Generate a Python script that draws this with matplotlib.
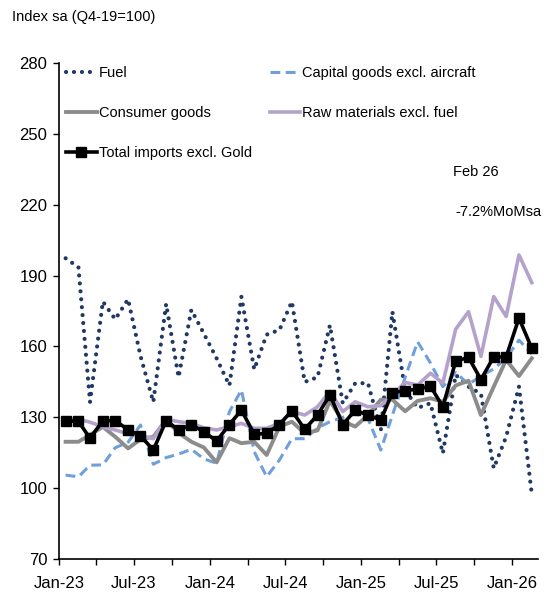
import numpy as np
import pandas as pd
import matplotlib
matplotlib.use("Agg")
import matplotlib.pyplot as plt
import matplotlib.dates as mdates

plt.rcParams['font.family'] = ['Liberation Sans Narrow', 'Liberation Sans', 'DejaVu Sans']

# monthly, Jan-23 .. Feb-26
months = pd.date_range('2023-01-01', periods=38, freq='MS')

fuel = [197.3, 193.5, 136.5, 179.0, 171.5, 180.0, 156.0, 136.5, 178.0, 147.0,
        175.5, 165.5, 155.0, 143.5, 181.0, 150.3, 165.0, 167.0, 179.0, 145.0,
        147.0, 169.0, 136.0, 144.4, 144.5, 124.5, 174.7, 141.5, 134.0, 136.0,
        114.8, 148.0, 143.0, 140.0, 108.5, 121.8, 143.0, 97.5]
capital = [105.6, 104.9, 109.8, 109.9, 117.2, 119.5, 126.8, 110.2, 113.0, 114.5,
           116.5, 112.5, 110.6, 132.4, 141.6, 115.5, 104.9, 112.0, 121.0, 121.0,
           125.5, 128.2, 130.0, 131.5, 129.5, 116.2, 131.0, 147.0, 162.0, 153.0,
           143.0, 149.0, 144.0, 147.5, 150.5, 155.0, 162.7, 156.8]
consumer = [119.7, 119.7, 122.6, 126.0, 121.8, 116.9, 120.7, 121.8, 128.9, 123.5,
            119.7, 117.3, 111.0, 121.2, 119.1, 119.7, 114.1, 126.1, 128.2, 123.3,
            124.5, 137.0, 128.5, 126.1, 131.0, 137.5, 137.5, 132.6, 137.0, 138.1,
            136.6, 143.5, 145.5, 131.0, 143.0, 154.3, 147.5, 155.0]
raw = [129.0, 129.2, 128.0, 126.0, 124.7, 123.0, 122.5, 121.0, 129.2, 128.2,
       127.5, 125.6, 124.7, 126.1, 127.5, 125.4, 125.4, 127.5, 132.5, 131.0,
       134.5, 141.0, 132.5, 136.6, 134.5, 135.0, 139.5, 144.8, 143.7, 148.7,
       144.5, 167.3, 174.7, 155.8, 181.1, 172.7, 198.7, 187.0]
total = [128.6, 128.3, 121.2, 128.6, 128.6, 124.8, 122.2, 116.2, 128.6, 124.7,
         126.8, 124.0, 120.0, 127.0, 133.1, 122.9, 123.2, 127.0, 132.8, 125.0,
         131.0, 139.5, 127.0, 133.0, 131.0, 128.9, 140.5, 141.3, 142.0, 143.2,
         134.5, 153.8, 155.4, 146.0, 155.6, 155.6, 172.0, 159.2]

y_ticks = [70, 100, 130, 160, 190, 220, 250, 280]

x = months + pd.Timedelta(days=16)

fig = plt.figure(figsize=(5.58, 6.01), dpi=100)
ax = fig.add_axes([59 / 558, 1 - 559.3 / 601, 479 / 558, 496.6 / 601])

l_fuel, = ax.plot(x, fuel, color='#1F3864', lw=3.0, linestyle=(0, (0.01, 1.9)),
                  dash_capstyle='round', label='Fuel')
l_cap, = ax.plot(x, capital, color='#6FA0DC', lw=2.2, linestyle=(0, (3.2, 1.8)),
                 label='Capital goods excl. aircraft')
l_con, = ax.plot(x, consumer, color='#8C8C8C', lw=2.8, label='Consumer goods')
l_raw, = ax.plot(x, raw, color='#B4A2CC', lw=2.6, label='Raw materials excl. fuel')
l_tot, = ax.plot(x, total, color='black', lw=2.6, marker='s', markersize=6.5,
                 label='Total imports excl. Gold')

ax.set_ylim(70, 280)
ax.set_yticks(y_ticks)
ax.set_xlim(pd.Timestamp('2023-01-01'), pd.Timestamp('2026-03-04'))
ax.xaxis.set_major_locator(mdates.MonthLocator(bymonth=[1, 7]))
ax.xaxis.set_major_formatter(mdates.DateFormatter('%b-%y'))
ax.xaxis.set_minor_locator(mdates.MonthLocator(bymonth=[4, 10]))

for s in ['top', 'right']:
    ax.spines[s].set_visible(False)
for s in ['left', 'bottom']:
    ax.spines[s].set_linewidth(1.2)
ax.tick_params(axis='y', direction='out', length=4.3, width=1, pad=4, labelsize=12)
ax.tick_params(axis='x', which='both', direction='out', length=4.3, width=1, pad=8, labelsize=12)

ax.legend(handles=[l_fuel, l_con, l_tot, l_cap, l_raw], ncol=2, frameon=False,
          loc='upper left', bbox_to_anchor=(0.015, 0.9925), fontsize=10.5,
          handlelength=2.1, handletextpad=0.15, labelspacing=1.78,
          columnspacing=1.2, borderpad=0, borderaxespad=0)

fig.text(12 / 558, 1 - 17 / 601, 'Index sa (Q4-19=100)', fontsize=10.5, va='center', ha='left')
fig.text(476 / 558, 1 - 172 / 601, 'Feb 26', fontsize=10.5, va='center', ha='center')
fig.text(498 / 558, 1 - 212 / 601, '-7.2%MoMsa', fontsize=10.5, va='center', ha='center')

fig.savefig('out.png', dpi=100)
